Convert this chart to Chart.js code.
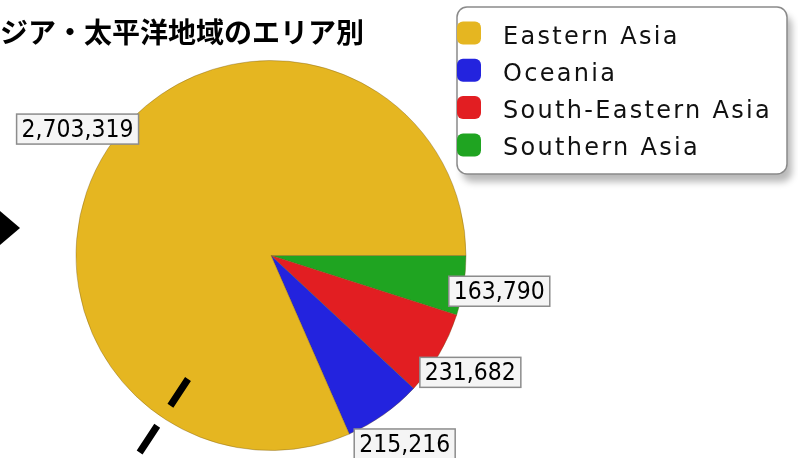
<!DOCTYPE html>
<html><head><meta charset="utf-8">
<script src="https://cdn.jsdelivr.net/npm/chart.js@4/dist/chart.umd.min.js"></script>
<style>html,body{margin:0;padding:0;background:#fff}#wrap{width:798px;height:458px;position:relative}</style>
</head><body><div id="wrap"><canvas id="c" width="798" height="458"></canvas></div>
<script>
// ---- data ----
const titleText = 'ジア・太平洋地域のエリア別';
const categories = ['Eastern Asia', 'Oceania', 'South-Eastern Asia', 'Southern Asia'];
const areaValues = [2703319, 215216, 231682, 163790];
// ---- styles ----
const sliceColors = ['#E5B621', '#2323DE', '#E21E22', '#1FA421'];

// JFreeChart draws anticlockwise from 3 o'clock; Chart.js draws clockwise,
// so feed the series reversed and start at 90deg.
const chartLabels = categories.slice().reverse();
const chartValues = areaValues.slice().reverse();
const chartColors = sliceColors.slice().reverse();

function rr(ctx, x, y, w, h, r) {
  ctx.beginPath();
  ctx.moveTo(x + r, y);
  ctx.arcTo(x + w, y, x + w, y + h, r);
  ctx.arcTo(x + w, y + h, x, y + h, r);
  ctx.arcTo(x, y + h, x, y, r);
  ctx.arcTo(x, y, x + w, y, r);
  ctx.closePath();
}

const fmt = v => v.toLocaleString('en-US');

const labelPlugin = {
  id: 'sliceLabels',
  afterDatasetsDraw(chart) {
    const ctx = chart.ctx;
    const meta = chart.getDatasetMeta(0);
    ctx.save();
    ctx.font = '22px "DejaVu Sans"';
    ctx.textAlign = 'center';
    ctx.textBaseline = 'middle';
    meta.data.forEach((arc, i) => {
      const p = arc.getProps(['x', 'y', 'startAngle', 'endAngle', 'outerRadius'], true);
      const mid = (p.startAngle + p.endAngle) / 2;
      const d = p.outerRadius * 1.185;
      const cx = p.x + Math.cos(mid) * d;
      const cy = p.y + Math.sin(mid) * d;
      const txt = fmt(chart.data.datasets[0].data[i]);
      const w = ctx.measureText(txt).width + 10;
      const h = 30;
      ctx.fillStyle = '#f5f5f5';
      ctx.fillRect(cx - w / 2, cy - h / 2, w, h);
      ctx.strokeStyle = '#8c8c8c';
      ctx.lineWidth = 1.5;
      ctx.strokeRect(cx - w / 2, cy - h / 2, w, h);
      ctx.fillStyle = '#000';
      ctx.save();
      ctx.translate(cx, cy + 1);
      ctx.scale(1, 1.15);
      ctx.fillText(txt, 0, 0);
      ctx.restore();
    });
    ctx.restore();
  }
};

const legendPlugin = {
  id: 'boxLegend',
  afterDraw(chart) {
    const ctx = chart.ctx;
    ctx.save();
    const bx = 457, by = 7, bw = 330, bh = 167;
    ctx.shadowColor = 'rgba(0,0,0,0.28)';
    ctx.shadowOffsetX = 5;
    ctx.shadowOffsetY = 8;
    ctx.shadowBlur = 7;
    rr(ctx, bx, by, bw, bh, 10);
    ctx.fillStyle = '#fff';
    ctx.fill();
    ctx.shadowColor = 'transparent';
    ctx.strokeStyle = '#8a8a8a';
    ctx.lineWidth = 1.5;
    ctx.stroke();
    ctx.font = '24px "DejaVu Sans"';
    ctx.letterSpacing = '2.3px';
    ctx.textBaseline = 'alphabetic';
    ctx.textAlign = 'left';
    categories.forEach((name, i) => {
      const base = 43.5 + i * 37.3;
      rr(ctx, 457, base - 22, 24, 23, 6);
      ctx.fillStyle = sliceColors[i];
      ctx.fill();
      ctx.fillStyle = '#111';
      ctx.fillText(name, 503, base);
    });
    ctx.restore();
  }
};

// annotation overlay present in the reference picture (arrow + dashed pointer)
const overlayPlugin = {
  id: 'overlay',
  afterDraw(chart) {
    const ctx = chart.ctx;
    ctx.save();
    ctx.fillStyle = '#000';
    ctx.beginPath();
    ctx.moveTo(0, 211);
    ctx.lineTo(20, 228);
    ctx.lineTo(0, 245);
    ctx.closePath();
    ctx.fill();
    ctx.strokeStyle = '#000';
    ctx.lineWidth = 7;
    ctx.lineCap = 'butt';
    ctx.setLineDash([32, 24]);
    ctx.beginPath();
    ctx.moveTo(188, 379);
    ctx.lineTo(136, 458);
    ctx.stroke();
    ctx.restore();
  }
};

new Chart(document.getElementById('c'), {
  type: 'pie',
  data: {
    labels: chartLabels,
    datasets: [{
      data: chartValues,
      backgroundColor: chartColors,
      borderColor: 'rgba(110,80,20,0.35)',
      borderWidth: 1
    }]
  },
  options: {
    responsive: false,
    devicePixelRatio: 1,
    animation: false,
    rotation: 90,
    layout: { padding: { left: 0, right: 256, top: 0, bottom: 7 } },
    plugins: {
      legend: { display: false },
      tooltip: { enabled: false },
      title: {
        display: true,
        text: titleText,
        align: 'start',
        color: '#000',
        font: { family: '"Noto Sans CJK JP"', size: 28, weight: 'bold', lineHeight: 1.2 },
        padding: { top: 16, bottom: 10.4 }
      }
    }
  },
  plugins: [labelPlugin, legendPlugin, overlayPlugin]
});
</script>
</body></html>
